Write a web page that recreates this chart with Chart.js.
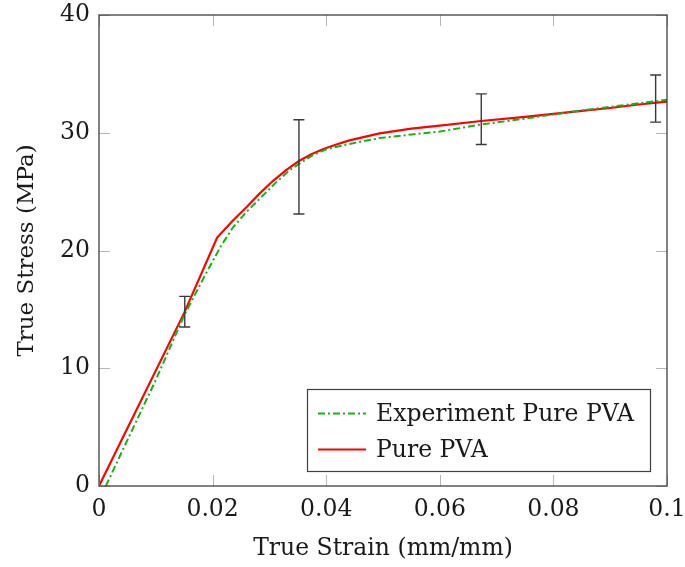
<!DOCTYPE html>
<html>
<head>
<meta charset="utf-8">
<script src="https://cdn.jsdelivr.net/npm/chart.js@4"></script>
<style>
  body { margin: 0; background: #fff; }
  #wrap { width: 685px; height: 567px; }
</style>
</head>
<body>
<div id="wrap"><canvas id="stressChart" width="685" height="567"></canvas></div>
<script>
// Experiment curve (green dash-dot)
const expStrain = [0.0012, 0.005, 0.010, 0.015, 0.019, 0.0215, 0.0235, 0.026, 0.0283, 0.031, 0.0335, 0.0352, 0.0375, 0.040, 0.0441, 0.0494, 0.055, 0.060, 0.0673, 0.075, 0.080, 0.085, 0.090, 0.095, 0.100];
const expStress = [0.0, 3.9, 9.0, 14.5, 18.2, 20.4, 21.9, 23.3, 24.4, 25.7, 26.8, 27.35, 28.05, 28.6, 29.05, 29.55, 29.85, 30.1, 30.7, 31.2, 31.55, 31.9, 32.2, 32.5, 32.8];

// Simulation curve (red solid)
const simStrain = [0.0, 0.015, 0.0208, 0.0235, 0.026, 0.0283, 0.0306, 0.033, 0.0352, 0.0373, 0.0394, 0.0418, 0.0441, 0.0494, 0.055, 0.060, 0.0673, 0.075, 0.080, 0.085, 0.090, 0.095, 0.100];
const simStress = [0.0, 14.7, 21.1, 22.5, 23.7, 24.85, 25.9, 26.85, 27.6, 28.15, 28.6, 29.0, 29.35, 29.95, 30.35, 30.6, 31.0, 31.35, 31.6, 31.85, 32.1, 32.4, 32.65];

// Error bars on the experiment
const errStrain = [0.0151, 0.0352, 0.0673, 0.0980];
const errLow    = [13.5, 23.1, 29.0, 30.9];
const errHigh   = [16.1, 31.1, 33.3, 34.9];

const xTickLabels = ['0', '0.02', '0.04', '0.06', '0.08', '0.1'];
const yTickLabels = ['0', '10', '20', '30', '40'];

const FONT = 'DejaVu Serif';

function toPoints(xs, ys) {
  return xs.map((x, i) => ({ x: x, y: ys[i] }));
}

// frame, inner ticks, error bars, legend inside the plot
const decorations = {
  id: 'decorations',
  afterDatasetsDraw(chart) {
    const { ctx, chartArea: a, scales: { x, y } } = chart;
    ctx.save();

    // inner tick marks on all four sides
    ctx.strokeStyle = '#b5b5b5';
    ctx.lineWidth = 1;
    const tl = 11;
    x.ticks.forEach(t => {
      const px = Math.round(x.getPixelForValue(t.value)) + 0.5;
      ctx.beginPath();
      ctx.moveTo(px, a.bottom); ctx.lineTo(px, a.bottom - tl);
      ctx.moveTo(px, a.top); ctx.lineTo(px, a.top + tl);
      ctx.stroke();
    });
    y.ticks.forEach(t => {
      const py = Math.round(y.getPixelForValue(t.value)) + 0.5;
      ctx.beginPath();
      ctx.moveTo(a.left, py); ctx.lineTo(a.left + tl, py);
      ctx.moveTo(a.right, py); ctx.lineTo(a.right - tl, py);
      ctx.stroke();
    });

    // error bars
    ctx.strokeStyle = '#3a3a3a';
    ctx.lineWidth = 1.4;
    errStrain.forEach((s, i) => {
      const px = x.getPixelForValue(s);
      const lo = y.getPixelForValue(errLow[i]);
      const hi = y.getPixelForValue(errHigh[i]);
      ctx.beginPath();
      ctx.moveTo(px, lo); ctx.lineTo(px, hi);
      ctx.moveTo(px - 5.5, lo); ctx.lineTo(px + 5.5, lo);
      ctx.moveTo(px - 5.5, hi); ctx.lineTo(px + 5.5, hi);
      ctx.stroke();
    });

    // frame
    ctx.strokeStyle = '#404040';
    ctx.lineWidth = 1.3;
    ctx.strokeRect(a.left, a.top, a.right - a.left, a.bottom - a.top);

    // legend box
    const bx = 307.5, by = 389.5, bw = 343, bh = 82;
    ctx.fillStyle = '#fff';
    ctx.fillRect(bx, by, bw, bh);
    ctx.strokeStyle = '#404040';
    ctx.lineWidth = 1.2;
    ctx.strokeRect(bx, by, bw, bh);
    ctx.font = '23.5px "' + FONT + '"';
    ctx.textBaseline = 'middle';
    ctx.fillStyle = '#1a1a1a';
    chart.data.datasets.forEach((ds, i) => {
      const ly = 413.5 + i * 36;
      ctx.strokeStyle = ds.borderColor;
      ctx.lineWidth = ds.borderWidth;
      ctx.setLineDash(ds.borderDash || []);
      ctx.beginPath();
      ctx.moveTo(318, ly); ctx.lineTo(366, ly);
      ctx.stroke();
      ctx.setLineDash([]);
      ctx.fillText(ds.label, 376, ly + 1);
    });

    ctx.restore();
  }
};

const ctx = document.getElementById('stressChart').getContext('2d');
const stressChart = new Chart(ctx, {
  type: 'line',
  data: {
    datasets: [{
      label: 'Experiment Pure PVA',
      data: toPoints(expStrain, expStress),
      borderColor: '#1aaf1a',
      borderWidth: 2,
      borderDash: [7, 3, 2, 3],
      pointRadius: 0,
      fill: false,
      tension: 0
    }, {
      label: 'Pure PVA',
      data: toPoints(simStrain, simStress),
      borderColor: '#ff0000',
      borderWidth: 2.2,
      pointRadius: 0,
      fill: false,
      tension: 0
    }]
  },
  options: {
    responsive: false,
    animation: false,
    layout: { padding: { top: 15, right: 18, left: 0, bottom: 0 } },
    plugins: { legend: { display: false }, tooltip: { enabled: false } },
    scales: {
      x: {
        type: 'linear', min: 0, max: 0.1,
        afterFit: s => { s.height = 81; s.paddingLeft = 0; s.paddingRight = 0; },
        afterBuildTicks: s => { s.ticks = xTickLabels.map(l => ({ value: parseFloat(l) })); },
        ticks: {
          callback: (v, i) => xTickLabels[i],
          font: { family: FONT, size: 23.5 }, color: '#1a1a1a', padding: 10, maxRotation: 0
        },
        grid: { display: false, drawTicks: false },
        border: { display: false },
        title: {
          display: true, text: 'True Strain (mm/mm)',
          font: { family: FONT, size: 23.5 }, color: '#1a1a1a', padding: { top: 0, bottom: 4 }
        }
      },
      y: {
        type: 'linear', min: 0, max: 40,
        afterFit: s => { s.width = 99; s.paddingTop = 0; s.paddingBottom = 0; },
        afterBuildTicks: s => { s.ticks = yTickLabels.map(l => ({ value: parseFloat(l) })); },
        ticks: {
          callback: (v, i) => yTickLabels[i],
          font: { family: FONT, size: 23.5 }, color: '#1a1a1a', padding: 9
        },
        grid: { display: false, drawTicks: false },
        border: { display: false },
        title: {
          display: true, text: 'True Stress (MPa)',
          font: { family: FONT, size: 23 }, color: '#1a1a1a', padding: { top: 13, bottom: 0 }
        }
      }
    }
  },
  plugins: [decorations]
});
</script>
</body>
</html>
